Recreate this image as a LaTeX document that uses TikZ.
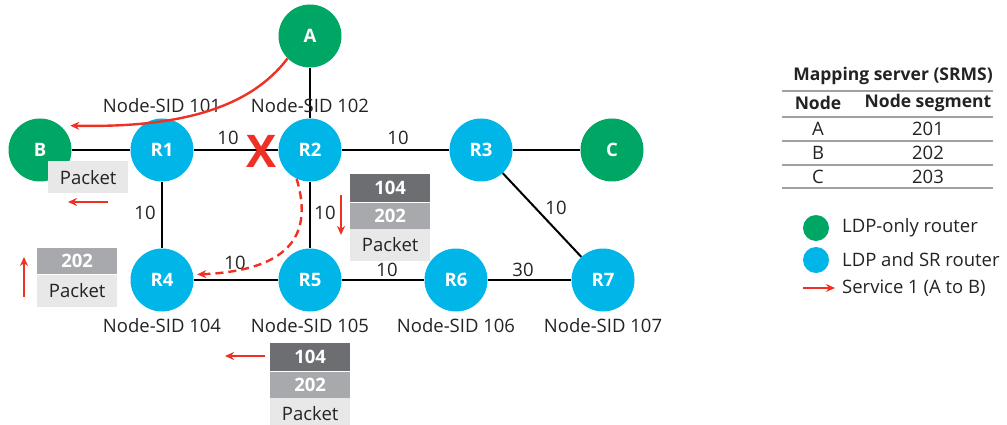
\documentclass[tikz,border=0pt]{standalone}
\usepackage{fontspec}
\setmainfont{Open Sans}
\usetikzlibrary{positioning}
\usetikzlibrary{arrows.meta}

\definecolor{ldpgreen}{RGB}{0,166,100}
\definecolor{srblue}{RGB}{0,181,232}
\definecolor{svcred}{RGB}{238,49,36}
\definecolor{lbldark}{RGB}{109,110,113}
\definecolor{lblmid}{RGB}{167,169,172}
\definecolor{pktgray}{RGB}{232,232,233}
\definecolor{txtgray}{RGB}{35,35,35}
\definecolor{rulegray}{RGB}{160,160,160}

\begin{document}
\begin{tikzpicture}[x=1pt,y=-1pt,
  txt/.style={font=\fontsize{18.5}{22}\selectfont,text=txtgray,inner sep=0pt},
  head/.style={txt,font=\fontsize{17.5}{21}\selectfont\bfseries},
  router/.style={circle,minimum size=63pt,inner sep=0pt,text=white,font=\fontsize{18.5}{22}\selectfont\bfseries},
  ldp/.style={router,fill=ldpgreen},
  sr/.style={router,fill=srblue},
  link/.style={line width=2pt,black},
  label104/.style={minimum width=80pt,minimum height=28pt,inner sep=0pt,fill=lbldark,text=white,font=\fontsize{18.5}{22}\selectfont\bfseries},
  label202/.style={label104,minimum height=26pt,fill=lblmid},
  pkt/.style={minimum width=80pt,minimum height=32pt,inner sep=0pt,fill=pktgray,text=txtgray,font=\fontsize{18.5}{22}\selectfont},
  svc/.style={svcred,line width=2.4pt,-{Stealth[length=9pt,width=8pt]}},
  rule/.style={rulegray,line width=1.2pt}]
\useasboundingbox (0,0) rectangle (1007,425);

% routers
\node[ldp] (A) at (310,36) {A};
\node[ldp] (B) at (40,150) {B};
\node[sr] (R1) at (162,150) {R1};
\node[sr] (R2) at (310,150) {R2};
\node[sr] (R3) at (481,150) {R3};
\node[ldp] (C) at (612,150) {C};
\node[sr] (R4) at (162,280) {R4};
\node[sr] (R5) at (310,280) {R5};
\node[sr] (R6) at (456,280) {R6};
\node[sr] (R7) at (603,280) {R7};

% links
\draw[link] (A) -- (R2);
\draw[link] (B) -- (R1);
\draw[link] (R1) -- (R2);
\draw[link] (R2) -- (R3);
\draw[link] (R3) -- (C);
\draw[link] (R1) -- (R4);
\draw[link] (R2) -- (R5);
\draw[link] (R4) -- (R5);
\draw[link] (R5) -- (R6);
\draw[link] (R6) -- (R7);
\draw[link] (R3) -- (R7);

% metrics
\node[txt] (m12) at (228,138) {10};
\node[txt] (m23) at (398,138) {10};
\node[txt] (m14) at (145,213) {10};
\node[txt] (m25) at (325,213) {10};
\node[txt] (m45) at (235,263) {10};
\node[txt] (m56) at (387,270) {10};
\node[txt] (m67) at (523,270) {30};
\node[txt] (m37) at (556,208) {10};

% node SIDs
\node[txt] (sid1) at (162,106) {Node-SID 101};
\node[txt] (sid2) at (310,106) {Node-SID 102};
\node[txt] (sid4) at (162,326) {Node-SID 104};
\node[txt] (sid5) at (310,326) {Node-SID 105};
\node[txt] (sid6) at (456,326) {Node-SID 106};
\node[txt] (sid7) at (603,326) {Node-SID 107};

% failed link
\node[text=svcred,inner sep=0pt,font=\fontsize{45}{45}\selectfont\bfseries] (fail) at (262,151) {X};

% service path
\draw[svc] (A.225) .. controls (250,108) and (180,128) .. ([shift={(6,-4)}]B.40);
\draw[svc,dash pattern=on 8pt off 5pt] (R2.245) .. controls (312,230) and (296,270) .. ([xshift=4pt]R4.10);

% label stacks
\node[pkt,anchor=north west] (pB) at (48,161) {Packet};
\draw[svc] (108,202) -- (68,202);

\node[label202,anchor=north west] (s4b) at (37,248) {202};
\node[pkt,below=0pt of s4b] (s4c) {Packet};
\draw[svc] (24,297) -- (24,257);

\node[label104,anchor=north west] (s2a) at (350,174) {104};
\node[label202,below=0pt of s2a] (s2b) {202};
\node[pkt,below=0pt of s2b] (s2c) {Packet};
\draw[svc] (341,195) -- (341,235);

\node[label104,anchor=north west] (s5a) at (270,343) {104};
\node[label202,below=0pt of s5a] (s5b) {202};
\node[pkt,below=0pt of s5b] (s5c) {Packet};
\draw[svc] (265,356) -- (225,356);

% mapping server table
\node[head] (srms) at (893,76) {Mapping server (SRMS)};
\draw[rule,line width=1.8pt] (782,91) -- (993,91);
\node[head] (hnode) at (818,103) {Node};
\node[head] (hseg) at (928,103) {Node segment};
\draw[rule] (782,117) -- (993,117);
\node[txt] (tA) at (818,129) {A};
\node[txt] (vA) at (928,129) {201};
\draw[rule] (782,141) -- (993,141);
\node[txt] (tB) at (818,153) {B};
\node[txt] (vB) at (928,153) {202};
\draw[rule] (782,165) -- (993,165);
\node[txt] (tC) at (818,177) {C};
\node[txt] (vC) at (928,177) {203};
\draw[rule] (782,188) -- (993,188);

% legend
\fill[ldpgreen] (816,228) circle (13);
\node[txt,anchor=west] (lg1) at (842,228) {LDP-only router};
\fill[srblue] (816,260) circle (13);
\node[txt,anchor=west] (lg2) at (842,260) {LDP and SR router};
\draw[svc] (803,288) -- (835,288);
\node[txt,anchor=west] (lg3) at (842,288) {Service 1 (A to B)};
\end{tikzpicture}
\end{document}
